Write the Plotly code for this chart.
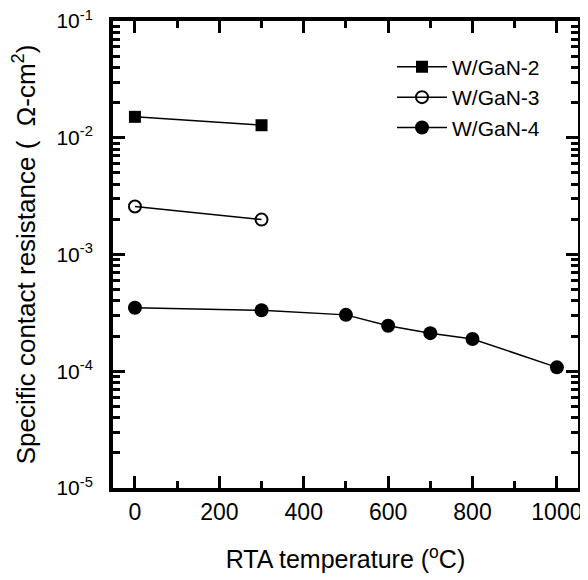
import plotly.graph_objects as go

x_2 = [0, 300]
y_2 = [0.0151, 0.0128]
x_3 = [0, 300]
y_3 = [0.00258, 0.00199]
x_4 = [0, 300, 500, 600, 700, 800, 1000]
y_4 = [3.5e-4, 3.33e-4, 3.04e-4, 2.45e-4, 2.12e-4, 1.89e-4, 1.08e-4]

x_ticks = [0, 200, 400, 600, 800, 1000]
x_minor = [100, 300, 500, 700, 900]
y_ticks = [1e-5, 1e-4, 1e-3, 1e-2, 1e-1]
y_ticktext = ["10<sup>-5</sup>", "10<sup>-4</sup>", "10<sup>-3</sup>", "10<sup>-2</sup>", "10<sup>-1</sup>"]
y_minor = [m * 10.0 ** e for e in range(-5, -1) for m in range(2, 10)]

FONT = "Liberation Sans, Arial, sans-serif"

fig = go.Figure()
fig.add_trace(go.Scatter(x=x_2, y=y_2, name="W/GaN-2", mode="lines+markers",
                         line=dict(color="black", width=1.5),
                         marker=dict(symbol="square", size=12, color="black")))
fig.add_trace(go.Scatter(x=x_3, y=y_3, name="W/GaN-3", mode="lines+markers",
                         line=dict(color="black", width=1.5),
                         marker=dict(symbol="circle-open", size=12, color="black",
                                     line=dict(width=2, color="black"))))
fig.add_trace(go.Scatter(x=x_4, y=y_4, name="W/GaN-4", mode="lines+markers",
                         line=dict(color="black", width=1.5),
                         marker=dict(symbol="circle", size=14, color="black")))

fig.update_layout(
    width=580, height=572,
    margin=dict(l=105, r=10, t=13, b=92),
    paper_bgcolor="white", plot_bgcolor="white",
    font=dict(family=FONT, color="black", size=20),
    showlegend=True,
    legend=dict(x=0.6, y=0.945, xanchor="left", yanchor="top",
                bgcolor="rgba(0,0,0,0)", font=dict(size=21, family=FONT),
                itemwidth=50, tracegroupgap=0),
    xaxis=dict(
        range=[-52, 1050], tickmode="array", tickvals=x_ticks,
        ticks="inside", ticklen=12, tickwidth=3, tickcolor="black",
        showline=True, linewidth=4, linecolor="black", mirror="allticks",
        showgrid=False, zeroline=False, automargin=False,
        tickfont=dict(size=23, family=FONT), ticklabeloverflow="allow",
        minor=dict(tickmode="array", tickvals=x_minor, ticks="inside",
                   ticklen=7, tickwidth=3, tickcolor="black", showgrid=False),
        title=dict(text="RTA temperature (<sup>o</sup>C)", font=dict(size=25, family=FONT),
                   standoff=28),
    ),
    yaxis=dict(
        type="log", range=[-5, -1], tickmode="array", tickvals=y_ticks,
        ticktext=y_ticktext,
        ticks="inside", ticklen=12, tickwidth=3, tickcolor="black",
        showline=True, linewidth=4, linecolor="black", mirror="allticks",
        showgrid=False, zeroline=False, automargin=False,
        tickfont=dict(size=21, family=FONT), ticklabelstandoff=12,
        ticklabeloverflow="allow",
        minor=dict(tickmode="array", tickvals=y_minor, ticks="inside",
                   ticklen=7, tickwidth=3, tickcolor="black", showgrid=False),
        title=dict(text="Specific contact resistance (  Ω-cm<sup>2</sup>)",
                   font=dict(size=26, family=FONT), standoff=18),
    ),
)

fig.write_html("out.html")
